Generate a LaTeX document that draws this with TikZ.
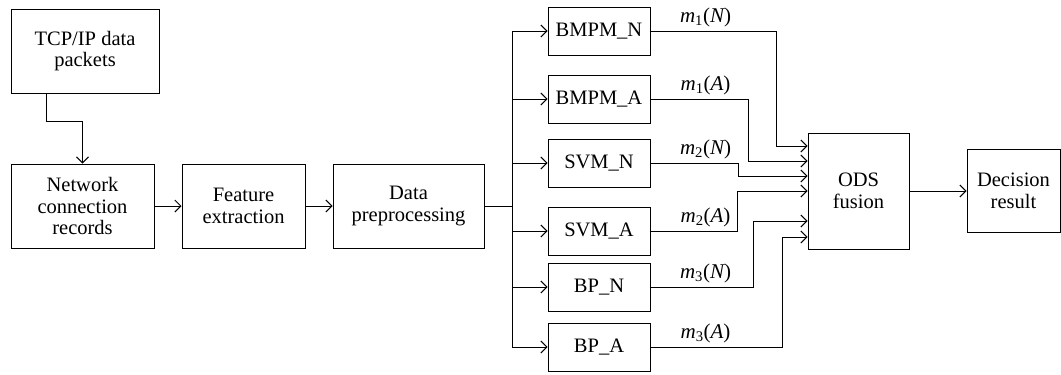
\documentclass[tikz,border=0pt]{standalone}
\usepackage{fontspec}
\setmainfont{Liberation Serif}
\usetikzlibrary{arrows.meta,calc}
\begin{document}
\begin{tikzpicture}[x=1pt,y=-1pt,
  box/.style={draw, line width=1pt, inner sep=0pt, align=center, font=\fontsize{20.5}{21.5}\selectfont},
  cls/.style={box, minimum width=102pt, minimum height=48pt},
  conn/.style={line width=1pt, -{Straight Barb[length=6pt,width=12pt,line width=1pt]}},
  plain/.style={line width=1pt},
  lbl/.style={font=\fontsize{21}{22}\selectfont, inner sep=0pt, anchor=south}]
\useasboundingbox (0,0) rectangle (1061,375);
\node[box, minimum width=148pt, minimum height=84pt] (tcp) at (85,51) {TCP/IP data\\packets};
\node[box, minimum width=143pt, minimum height=84pt] (net) at (82.5,206) {Network\\connection\\records};
\node[box, minimum width=123pt, minimum height=84pt] (feat) at (243.5,206) {Feature\\extraction};
\node[box, minimum width=151pt, minimum height=84pt] (data) at (408.5,206) {Data\\preprocessing};
\node[cls] (b1) at (599,31) {BMPM\_N};
\node[cls] (b2) at (599,99) {BMPM\_A};
\node[cls] (b3) at (599,163) {SVM\_N};
\node[cls] (b4) at (599,231) {SVM\_A};
\node[cls] (b5) at (599,287) {BP\_N};
\node[cls] (b6) at (599,347) {BP\_A};
\node[box, minimum width=101pt, minimum height=116pt] (ods) at (858.5,191) {ODS\\fusion};
\node[box, minimum width=93pt, minimum height=83pt] (dec) at (1013.5,191) {Decision\\result};
% left chain
\coordinate (t1) at (46,121);
\draw[conn] (tcp.south -| t1) -- (t1) -- (t1 -| net.north) -- (net.north);
\draw[conn] (net.east) -- (feat.west);
\draw[conn] (feat.east) -- (data.west);
% bus
\coordinate (bus) at (512,206);
\draw[plain] (data.east) -- (bus);
\foreach \b in {b1,b2,b3,b4,b5,b6}{
  \draw[conn] (bus) |- (\b.west);
}
% outputs
\coordinate (c1) at (776,146);
\coordinate (c2) at (748,161);
\coordinate (c3) at (738,176);
\coordinate (c4) at (737,191);
\coordinate (c5) at (753,221);
\coordinate (c6) at (782,237);
\draw[conn] (b1.east) -| (c1) -- (c1 -| ods.west);
\draw[conn] (b2.east) -| (c2) -- (c2 -| ods.west);
\draw[conn] (b3.east) -| (c3) -- (c3 -| ods.west);
\draw[conn] (b4.east) -| (c4) -- (c4 -| ods.west);
\draw[conn] (b5.east) -| (c5) -- (c5 -| ods.west);
\draw[conn] (b6.east) -| (c6) -- (c6 -| ods.west);
\node[lbl] (l1) at ($(b1.east)+(55,-4)$) {{\itshape m}\textsubscript{1}({\itshape N})};
\node[lbl] (l2) at ($(b2.east)+(55,-4)$) {{\itshape m}\textsubscript{1}({\itshape A})};
\node[lbl] (l3) at ($(b3.east)+(55,-4)$) {{\itshape m}\textsubscript{2}({\itshape N})};
\node[lbl] (l4) at ($(b4.east)+(55,-4)$) {{\itshape m}\textsubscript{2}({\itshape A})};
\node[lbl] (l5) at ($(b5.east)+(55,-4)$) {{\itshape m}\textsubscript{3}({\itshape N})};
\node[lbl] (l6) at ($(b6.east)+(55,-4)$) {{\itshape m}\textsubscript{3}({\itshape A})};
\draw[conn] (ods.east) -- (dec.west);
\end{tikzpicture}
\end{document}
